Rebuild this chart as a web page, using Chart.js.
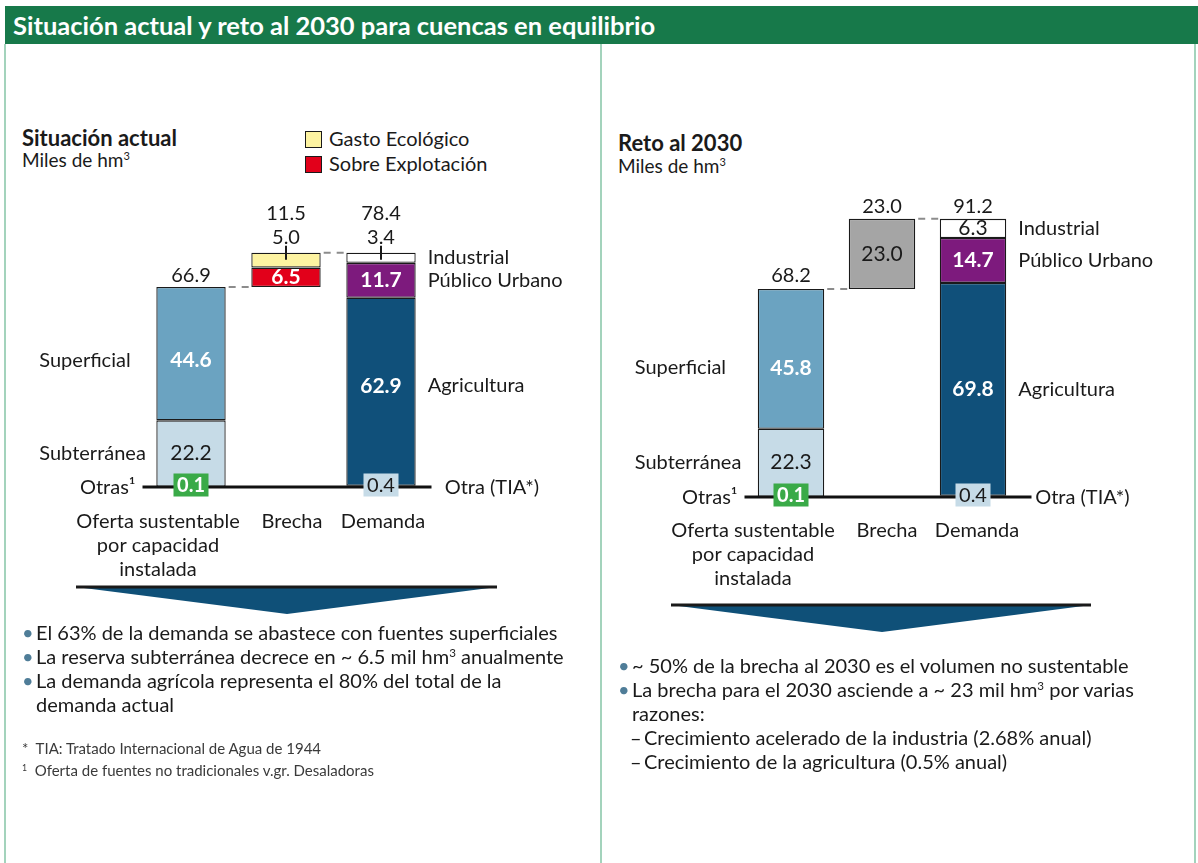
<!DOCTYPE html>
<html lang="es">
<head>
<meta charset="utf-8">
<title>Situación actual y reto al 2030 para cuencas en equilibrio</title>
<script src="https://cdn.jsdelivr.net/npm/chart.js@4.4.1/dist/chart.umd.min.js"></script>
<style>
  body { margin: 0; width: 1198px; height: 863px; background: #fff; position: relative; overflow: hidden;
         font-family: Lato, "Open Sans", sans-serif; color: #1a1a1a; }
  .abs { position: absolute; white-space: nowrap; }
  #header { left: 5px; top: 6px; width: 1193px; height: 38px; background: #17794a; color: #fff;
            font-weight: bold; font-size: 25.5px; line-height: 38px; padding-left: 8px; box-sizing: border-box; }
  .vline { position: absolute; top: 44px; bottom: 0; width: 2px; background: #a3d3bc; }
  .titulo { font-weight: bold; font-size: 22px; line-height: 22px; }
  .unidad { font-size: 19px; line-height: 22px; }
  sup { font-size: 58%; line-height: 0; vertical-align: 0.6em; }
  .leyenda { font-size: 20px; line-height: 24px; }
  .caja { display: inline-block; width: 15px; height: 15px; border: 1.5px solid #1a1a1a; vertical-align: -2px; margin-right: 7px; }
  .bullets { font-size: 20px; line-height: 24px; }
  .bullets div { position: relative; padding-left: 14px; }
  .bullets div span.p { position: absolute; left: 0; color: #4f7d98; }
  .bullets div.g { padding-left: 26px; }
  .bullets div.g span.p { left: 12px; color: #1a1a1a; }
  .notas { font-size: 15px; line-height: 22px; color: #3a3a3a; }
  canvas { position: absolute; }
</style>
</head>
<body>
<div id="header" class="abs">Situación actual y reto al 2030 para cuencas en equilibrio</div>
<div class="vline" style="left:4px"></div>
<div class="vline" style="left:600px"></div>
<div class="vline" style="left:1194px"></div>

<div class="abs titulo" style="left:22px; top:127px">Situación actual</div>
<div class="abs unidad" style="left:22px; top:149px">Miles de hm<sup>3</sup></div>
<div class="abs leyenda" style="left:305px; top:126px"><span class="caja" style="background:#fdf3a1"></span>Gasto Ecológico</div>
<div class="abs leyenda" style="left:305px; top:151px"><span class="caja" style="background:#e2001a"></span>Sobre Explotación</div>

<div class="abs titulo" style="left:618px; top:132px">Reto al 2030</div>
<div class="abs unidad" style="left:618px; top:155px">Miles de hm<sup>3</sup></div>

<canvas id="actual" width="594" height="500" style="left:6px; top:100px"></canvas>
<canvas id="reto" width="592" height="510" style="left:602px; top:100px"></canvas>

<svg class="abs" style="left:0; top:0" width="1198" height="863">
  <polygon points="76,587 497,587 287,614" fill="#0f5078"/>
  <line x1="76" y1="587" x2="497" y2="587" stroke="#1a1a1a" stroke-width="3"/>
  <polygon points="671,605 1091,605 882,632" fill="#0f5078"/>
  <line x1="671" y1="605" x2="1091" y2="605" stroke="#1a1a1a" stroke-width="3"/>
</svg>

<div class="abs bullets" style="left:22px; top:620px">
  <div><span class="p">•</span>El 63% de la demanda se abastece con fuentes superficiales</div>
  <div><span class="p">•</span>La reserva subterránea decrece en ~ 6.5 mil hm<sup>3</sup> anualmente</div>
  <div><span class="p">•</span>La demanda agrícola representa el 80% del total de la<br>demanda actual</div>
</div>
<div class="abs notas" style="left:22px; top:737px">
  <div>* &nbsp;TIA: Tratado Internacional de Agua de 1944</div>
  <div><sup>1</sup> &nbsp;Oferta de fuentes no tradicionales v.gr. Desaladoras</div>
</div>

<div class="abs bullets" style="left:618px; top:653px">
  <div><span class="p">•</span>~ 50% de la brecha al 2030 es el volumen no sustentable</div>
  <div><span class="p">•</span>La brecha para el 2030 asciende a ~ 23 mil hm<sup>3</sup> por varias<br>razones:</div>
  <div class="g"><span class="p">–</span>Crecimiento acelerado de la industria (2.68% anual)</div>
  <div class="g"><span class="p">–</span>Crecimiento de la agricultura (0.5% anual)</div>
</div>

<script>
// categorías del eje
const categorias = [['Oferta sustentable', 'por capacidad', 'instalada'], ['Brecha'], ['Demanda']];

// nombres de las series
const seriesOferta = ['Otras¹', 'Subterránea', 'Superficial'];
const seriesBrechaActual = ['Sobre Explotación', 'Gasto Ecológico'];
const seriesBrecha2030 = ['Brecha'];
const seriesDemanda = ['Otra (TIA*)', 'Agricultura', 'Público Urbano', 'Industrial'];

// situación actual (miles de hm3)
const ofertaActual = [0.1, 22.2, 44.6];
const brechaActual = [6.5, 5.0];
const demandaActual = [0.4, 62.9, 11.7, 3.4];

// reto al 2030 (miles de hm3)
const oferta2030 = [0.1, 22.3, 45.8];
const brecha2030 = [23.0];
const demanda2030 = [0.4, 69.8, 14.7, 6.3];

const coloresOferta = ['#3aaa48', '#c6dbe7', '#6ba3c1'];
const coloresBrechaActual = ['#e2001a', '#fdf3a1'];
const coloresBrecha2030 = ['#a5a5a5'];
const coloresDemanda = ['#c6dbe7', '#10507a', '#7d1a7d', '#ffffff'];

const FONT = 'Lato, "Open Sans", sans-serif';
const TXT = '#1a1a1a';

function suma(arr) { return arr.reduce((a, b) => a + b, 0); }

function armarDatasets(oferta, brecha, demanda, nombresBrecha, coloresBrecha) {
    const grupos = [
        { nombres: seriesOferta, valores: oferta, colores: coloresOferta, base: 0 },
        { nombres: nombresBrecha, valores: brecha, colores: coloresBrecha, base: suma(oferta) },
        { nombres: seriesDemanda, valores: demanda, colores: coloresDemanda, base: 0 }
    ];
    const datasets = [];
    grupos.forEach((g, gi) => {
        let acc = g.base;
        g.valores.forEach((v, i) => {
            const data = [null, null, null];
            data[gi] = [acc, acc + v];
            datasets.push({ label: g.nombres[i], data: data, backgroundColor: g.colores[i], grupo: gi, valor: v });
            acc += v;
        });
    });
    return datasets;
}

function texto(ctx, str, x, y, opt) {
    ctx.save();
    ctx.font = (opt.bold ? 'bold ' : '') + (opt.size || 20) + 'px ' + FONT;
    ctx.fillStyle = opt.color || TXT;
    ctx.textAlign = opt.align || 'center';
    ctx.textBaseline = 'middle';
    ctx.fillText(str, x, y);
    ctx.restore();
}

function pluginPanel(p) {
    return {
        id: 'anotaciones',
        afterDatasetsDraw(chart) {
            const ctx = chart.ctx;
            const area = chart.chartArea;
            const yScale = chart.scales.y;
            const y0 = yScale.getPixelForValue(0);

            // barras por grupo
            const barras = [[], [], []];
            chart.data.datasets.forEach((ds, di) => {
                const el = chart.getDatasetMeta(di).data[ds.grupo];
                const pr = el.getProps(['x', 'y', 'base', 'width'], true);
                barras[ds.grupo].push({ ds: ds, x: pr.x, top: Math.min(pr.y, pr.base), bot: Math.max(pr.y, pr.base), w: pr.width });
            });
            const tope = g => barras[g][barras[g].length - 1].top;
            const izq = g => barras[g][0].x - barras[g][0].w / 2;
            const der = g => barras[g][0].x + barras[g][0].w / 2;

            // línea base
            ctx.save();
            ctx.strokeStyle = '#111';
            ctx.lineWidth = 3;
            ctx.beginPath();
            ctx.moveTo(area.left - 1, y0);
            ctx.lineTo(area.right + p.baseExtra, y0);
            ctx.stroke();

            // conectores punteados
            ctx.strokeStyle = '#8c8c8c';
            ctx.lineWidth = 2;
            ctx.setLineDash([7, 6]);
            [[0, 1, tope(0)], [1, 2, tope(1)]].forEach(([a, b, yy]) => {
                ctx.beginPath();
                ctx.moveTo(der(a) + 3, yy);
                ctx.lineTo(izq(b) - 1, yy);
                ctx.stroke();
            });
            ctx.restore();

            // etiquetas de valores
            barras.forEach((lista, g) => {
                const estilos = p.estilos[g];
                let totalOff = 12;
                lista.forEach((b, i) => {
                    const est = estilos[i];
                    const val = b.ds.valor.toFixed(1);
                    const mid = (b.top + b.bot) / 2 + (p.ajuste[b.ds.label] || 0);
                    if (est === 'white') {
                        texto(ctx, val, b.x, mid, { bold: true, size: 21, color: '#fff' });
                    } else if (est === 'dark') {
                        texto(ctx, val, b.x, mid, { size: 21 });
                    } else if (est === 'tick') {
                        ctx.save();
                        ctx.strokeStyle = TXT;
                        ctx.lineWidth = 2;
                        ctx.beginPath();
                        ctx.moveTo(b.x, b.top - 7);
                        ctx.lineTo(b.x, b.top + 7);
                        ctx.stroke();
                        ctx.restore();
                        texto(ctx, val, b.x, b.top - 15, {});
                        totalOff = 39;
                    } else if (est === 'green' || est === 'blue') {
                        const w = 35, h = 23, cy = y0 - 2;
                        ctx.fillStyle = est === 'green' ? '#3aaa48' : '#c6dbe7';
                        ctx.fillRect(b.x - w / 2, cy - h / 2, w, h);
                        texto(ctx, val, b.x, cy + 1, est === 'green' ? { bold: true, color: '#fff' } : {});
                    }
                });
                const total = suma(lista.map(b => b.ds.valor)).toFixed(1);
                texto(ctx, total, lista[0].x, tope(g) - (g === 0 ? p.ofertaOff : totalOff), {});
            });

            // etiquetas laterales
            const seg = (g, i) => barras[g][i];
            const segMid = (g, i) => (seg(g, i).top + seg(g, i).bot) / 2 + (p.ajuste[seg(g, i).ds.label] || 0);
            texto(ctx, seriesOferta[2], izq(0) - p.ladoIzq, segMid(0, 2), { align: 'left' });
            texto(ctx, seriesOferta[1], izq(0) - p.ladoIzq, segMid(0, 1), { align: 'left' });
            texto(ctx, seriesOferta[0], area.left - 8, y0 + 1, { align: 'right' });
            for (let i = 1; i < seriesDemanda.length; i++) {
                texto(ctx, seriesDemanda[i], der(2) + 12, segMid(2, i), { align: 'left' });
            }
            texto(ctx, seriesDemanda[0], der(2) + 29, y0 + 1, { align: 'left' });

            // categorías
            categorias.forEach((lineas, g) => {
                const cx = barras[g][0].x + p.catOff[g];
                lineas.forEach((l, k) => texto(ctx, l, cx, y0 + p.catY + k * 24, {}));
            });
        }
    };
}

function dibujar(id, datasets, p) {
    new Chart(document.getElementById(id).getContext('2d'), {
        type: 'bar',
        data: { labels: categorias.map(c => c.join(' ')), datasets: datasets },
        options: {
            responsive: false,
            animation: false,
            devicePixelRatio: 1,
            layout: { padding: p.padding },
            scales: {
                x: { display: false, stacked: true },
                y: { display: false, min: 0, max: p.max }
            },
            datasets: {
                bar: { barPercentage: 0.73, categoryPercentage: 1, borderColor: '#1a1a1a', borderWidth: 1.3, borderSkipped: false }
            },
            plugins: { legend: { display: false }, tooltip: { enabled: false } }
        },
        plugins: [pluginPanel(p)]
    });
}

document.addEventListener('DOMContentLoaded', function() {
    dibujar('actual', armarDatasets(ofertaActual, brechaActual, demandaActual, seriesBrechaActual, coloresBrechaActual), {
        max: 90,
        padding: { left: 137.5, right: 171.5, top: 118, bottom: 113 },
        estilos: [['green', 'dark', 'white'], ['white', 'tick'], ['blue', 'white', 'white', 'tick']],
        ajuste: { 'Superficial': 7, 'Agricultura': -6 },
        ofertaOff: 11,
        baseExtra: 3,
        ladoIzq: 117,
        catOff: [-33, 6, 2],
        catY: 35
    });
    dibujar('reto', armarDatasets(oferta2030, brecha2030, demanda2030, seriesBrecha2030, coloresBrecha2030), {
        max: 100,
        padding: { left: 143.5, right: 175.5, top: 92, bottom: 113 },
        estilos: [['green', 'dark', 'white'], ['dark'], ['blue', 'white', 'white', 'dark']],
        ajuste: { 'Superficial': 9 },
        ofertaOff: 13,
        baseExtra: 13,
        ladoIzq: 123,
        catOff: [-38, 5, 4],
        catY: 34
    });
});
</script>
</body>
</html>
